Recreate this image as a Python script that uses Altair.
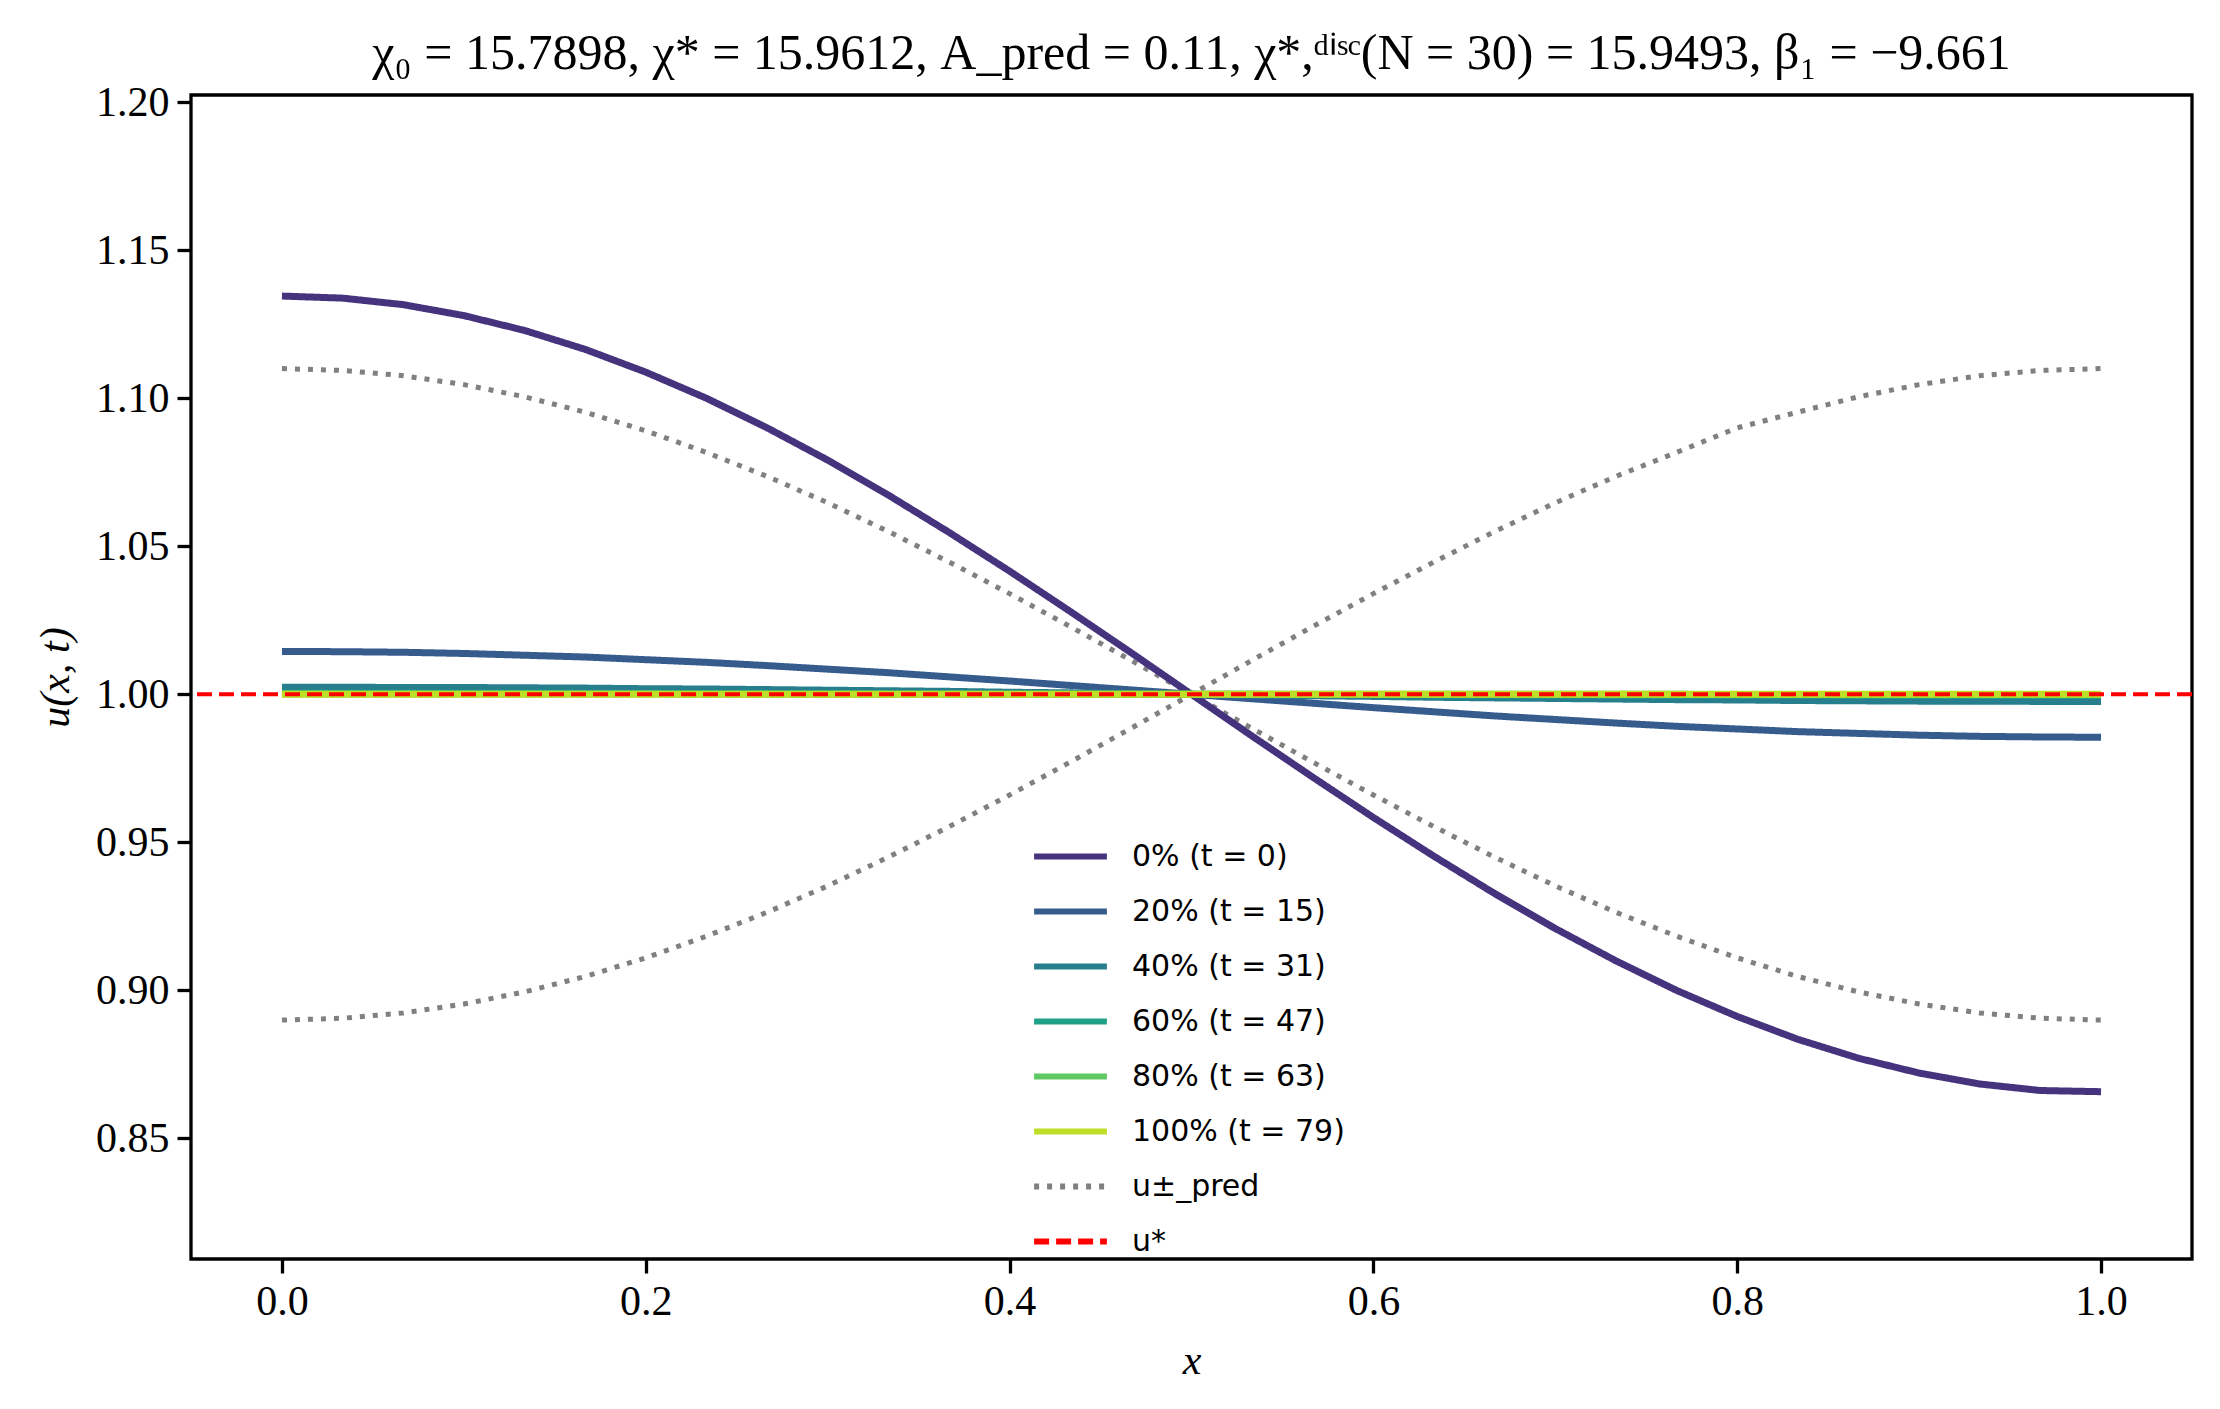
import altair as alt
import pandas as pd

# x grid (N = 30 intervals)
x_grid = [0.0, 0.0333, 0.0667, 0.1, 0.1333, 0.1667, 0.2, 0.2333, 0.2667, 0.3, 0.3333,
          0.3667, 0.4, 0.4333, 0.4667, 0.5, 0.5333, 0.5667, 0.6, 0.6333, 0.6667, 0.7,
          0.7333, 0.7667, 0.8, 0.8333, 0.8667, 0.9, 0.9333, 0.9667, 1.0]

u_t0 = [1.1345, 1.1338, 1.1316, 1.1279, 1.1229, 1.1165, 1.1088, 1.1000, 1.0900, 1.0791, 1.0673,
        1.0547, 1.0416, 1.0280, 1.0141, 1.0000, 0.9859, 0.9720, 0.9584, 0.9453, 0.9327, 0.9209,
        0.9100, 0.9000, 0.8912, 0.8835, 0.8771, 0.8721, 0.8684, 0.8662, 0.8658]
u_t15 = [1.0145, 1.0144, 1.0142, 1.0138, 1.0132, 1.0126, 1.0117, 1.0108, 1.0097, 1.0085, 1.0073,
         1.0059, 1.0045, 1.0030, 1.0015, 1.0000, 0.9985, 0.9970, 0.9955, 0.9941, 0.9927, 0.9915,
         0.9903, 0.9892, 0.9883, 0.9874, 0.9868, 0.9862, 0.9858, 0.9856, 0.9855]
u_t31 = [1.0024, 1.0024, 1.0023, 1.0023, 1.0022, 1.0021, 1.0019, 1.0018, 1.0016, 1.0014, 1.0012,
         1.0010, 1.0007, 1.0005, 1.0003, 1.0000, 0.9997, 0.9995, 0.9993, 0.9990, 0.9988, 0.9986,
         0.9984, 0.9982, 0.9981, 0.9979, 0.9978, 0.9977, 0.9977, 0.9976, 0.9976]
u_t47 = [1.0004, 1.0004, 1.0004, 1.0004, 1.0004, 1.0003, 1.0003, 1.0003, 1.0003, 1.0002, 1.0002,
         1.0002, 1.0001, 1.0001, 1.0000, 1.0000, 1.0000, 0.9999, 0.9999, 0.9998, 0.9998, 0.9998,
         0.9997, 0.9997, 0.9997, 0.9997, 0.9996, 0.9996, 0.9996, 0.9996, 0.9996]
u_t63 = [1.0001, 1.0001, 1.0001, 1.0001, 1.0001, 1.0001, 1.0001, 1.0000, 1.0000, 1.0000, 1.0000,
         1.0000, 1.0000, 1.0000, 1.0000, 1.0000, 1.0000, 1.0000, 1.0000, 1.0000, 1.0000, 1.0000,
         1.0000, 1.0000, 0.9999, 0.9999, 0.9999, 0.9999, 0.9999, 0.9999, 0.9999]
u_t79 = [1.0000, 1.0000, 1.0000, 1.0000, 1.0000, 1.0000, 1.0000, 1.0000, 1.0000, 1.0000, 1.0000,
         1.0000, 1.0000, 1.0000, 1.0000, 1.0000, 1.0000, 1.0000, 1.0000, 1.0000, 1.0000, 1.0000,
         1.0000, 1.0000, 1.0000, 1.0000, 1.0000, 1.0000, 1.0000, 1.0000, 1.0000]

u_pred_plus = [1.1100, 1.1094, 1.1076, 1.1046, 1.1005, 1.0953, 1.0890, 1.0817, 1.0736, 1.0647,
               1.0550, 1.0447, 1.0340, 1.0229, 1.0115, 1.0000, 0.9885, 0.9771, 0.9660, 0.9553,
               0.9450, 0.9353, 0.9264, 0.9183, 0.9110, 0.9047, 0.8995, 0.8954, 0.8924, 0.8906, 0.8900]
u_pred_minus = [0.8900, 0.8906, 0.8924, 0.8954, 0.8995, 0.9047, 0.9110, 0.9183, 0.9264, 0.9353,
                0.9450, 0.9553, 0.9660, 0.9771, 0.9885, 1.0000, 1.0115, 1.0229, 1.0340, 1.0447,
                1.0550, 1.0647, 1.0736, 1.0817, 1.0900, 1.0953, 1.1005, 1.1046, 1.1076, 1.1094, 1.1100]
u_star = 1.0

curve_labels = ["0% (t = 0)", "20% (t = 15)", "40% (t = 31)",
                "60% (t = 47)", "80% (t = 63)", "100% (t = 79)"]
curve_colors = ["#46337e", "#365c8d", "#277f8e", "#1fa187", "#5ec962", "#bddf26"]
pred_label = "u±_pred"
star_label = "u*"

title_text = ("χ₀ = 15.7898,  χ* = 15.9612,  A_pred = 0.11,  "
              "χ*,ᵈⁱˢᶜ(N = 30) = 15.9493,  β₁ = −9.661")

SERIF = "Liberation Serif"

curves = pd.concat([
    pd.DataFrame({"x": x_grid, "u": vals, "series": lab, "order": k})
    for k, (lab, vals) in enumerate(zip(curve_labels, [u_t0, u_t15, u_t31, u_t47, u_t63, u_t79]))
])
pred = pd.concat([
    pd.DataFrame({"x": x_grid, "u": u_pred_plus, "series": pred_label, "branch": "plus"}),
    pd.DataFrame({"x": x_grid, "u": u_pred_minus, "series": pred_label, "branch": "minus"}),
])
star = pd.DataFrame({"u": [u_star], "series": [star_label]})

domain = curve_labels + [pred_label, star_label]
color_scale = alt.Scale(domain=domain, range=curve_colors + ["#808080", "#ff0000"])
dash_scale = alt.Scale(domain=domain, range=[[1, 0]] * 6 + [[5, 8], [15, 7]])

legend = alt.Legend(
    title=None, orient="none", legendX=840, legendY=722,
    symbolType="stroke", symbolSize=5300, symbolStrokeWidth=6,
    labelFont="DejaVu Sans", labelFontSize=30, labelColor="black", labelLimit=0,
    rowPadding=-33, labelOffset=22,
)

x_enc = alt.X("x:Q", scale=alt.Scale(domain=[-0.05, 1.05], nice=False, zero=False),
              axis=alt.Axis(values=[0, 0.2, 0.4, 0.6, 0.8, 1.0], format=".1f", title="x"))
y_enc = alt.Y("u:Q", scale=alt.Scale(domain=[0.8093, 1.2024], nice=False, zero=False),
              axis=alt.Axis(values=[0.85, 0.9, 0.95, 1.0, 1.05, 1.1, 1.15, 1.2], format=".2f",
                            title="u(x, t)"))
color_enc = alt.Color("series:N", scale=color_scale, legend=legend)
dash_enc = alt.StrokeDash("series:N", scale=dash_scale, legend=legend)

pred_layer = alt.Chart(pred).mark_line(strokeWidth=5, strokeCap="butt").encode(
    x=x_enc, y=y_enc, color=color_enc, strokeDash=dash_enc, detail="branch:N"
)
curve_layer = alt.Chart(curves).mark_line(strokeWidth=7).encode(
    x=x_enc, y=y_enc, color=color_enc, strokeDash=dash_enc,
    order=alt.Order("order:Q"),
)
star_layer = alt.Chart(star).mark_rule(strokeWidth=4).encode(
    y="u:Q", color=color_enc, strokeDash=dash_enc
)

chart = alt.layer(pred_layer, curve_layer, star_layer).properties(
    width=2200, height=1388,
    padding={"left": 26, "right": 14, "top": 22, "bottom": 15},
    autosize=alt.AutoSizeParams(type="fit", contains="padding"),
    title=alt.TitleParams(title_text, font=SERIF, fontSize=50, fontWeight="normal",
                          color="black", offset=2, anchor="middle"),
).configure_view(
    stroke="black", strokeWidth=3.3
).configure_axis(
    grid=False, domain=False, labelFont=SERIF, labelFontSize=42, labelColor="black",
    tickColor="black", tickSize=14, tickWidth=3.3, labelPadding=8,
    titleFont=SERIF, titleFontSize=42, titleFontStyle="italic", titleFontWeight="normal",
    titleColor="black", titlePadding=18,
)

chart.save("out.html", embed_options={"renderer": "svg", "actions": False})
